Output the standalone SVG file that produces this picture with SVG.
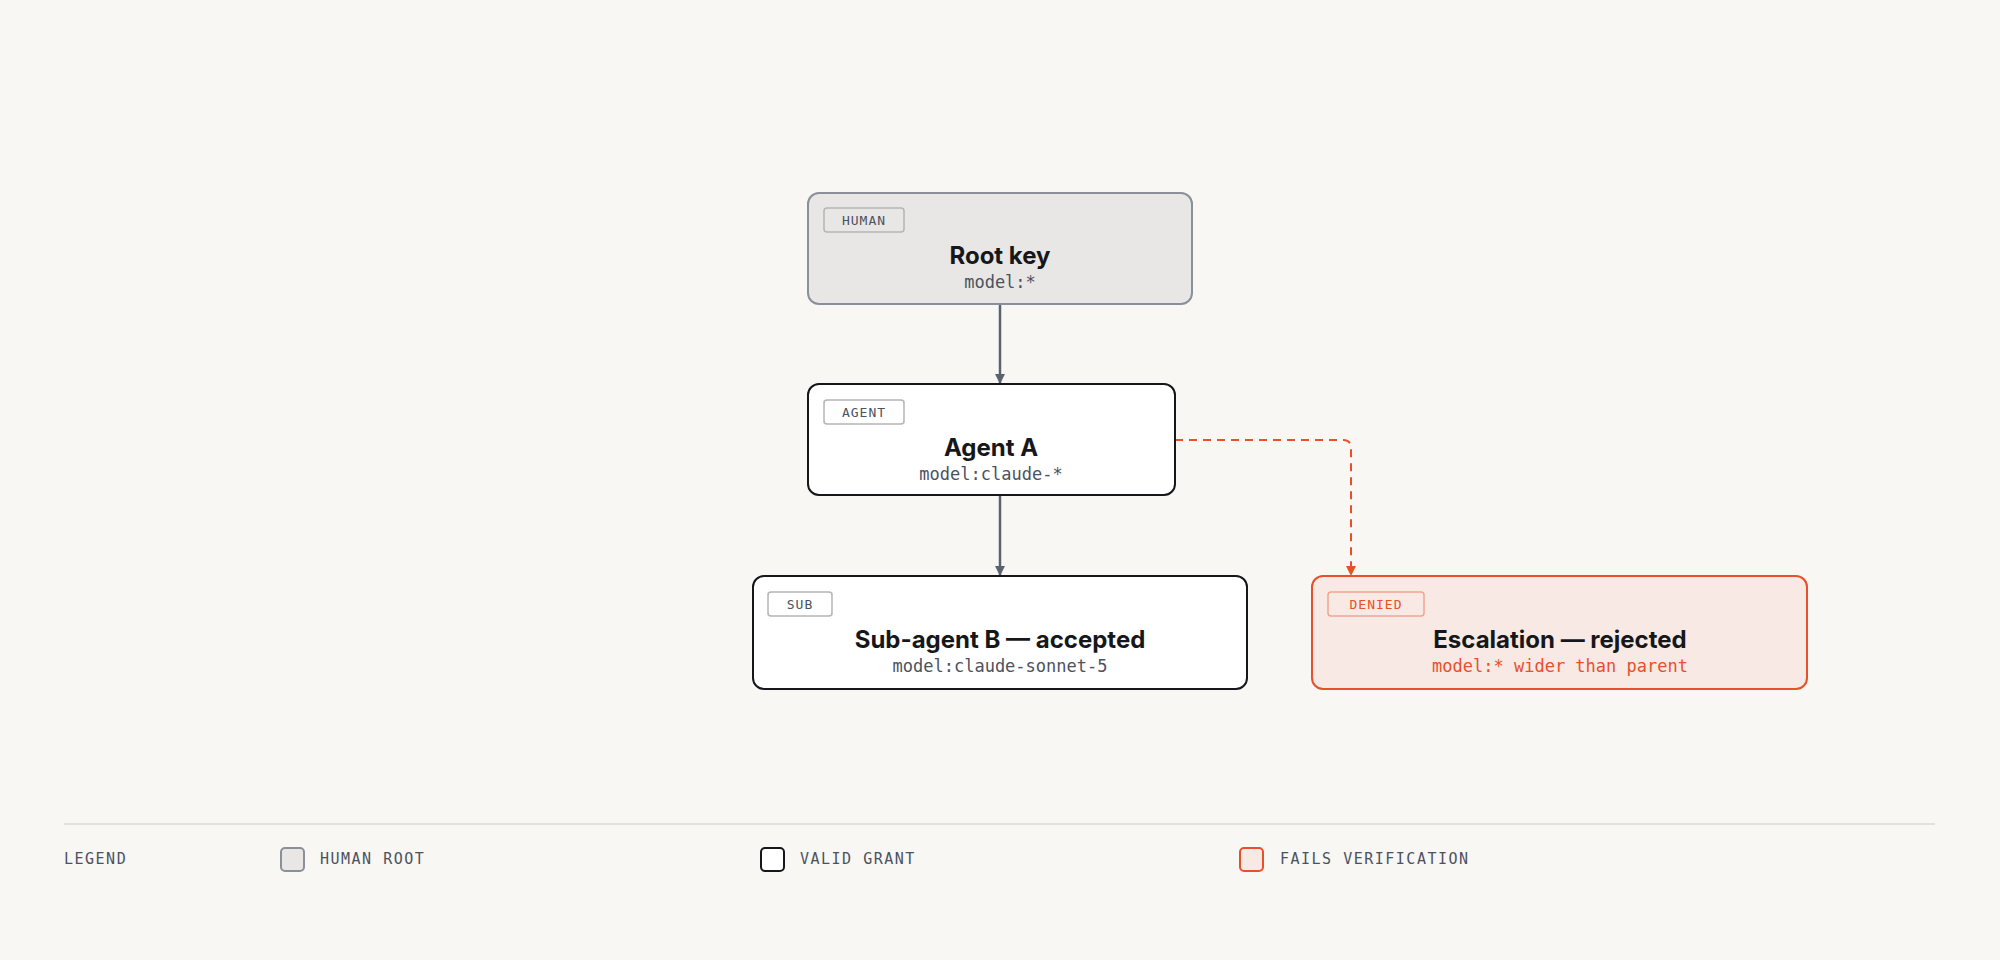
<svg xmlns="http://www.w3.org/2000/svg" width="2000" height="960" viewBox="0 0 2000 960">
<style>
.t{font-family:Inter,"Liberation Sans",sans-serif;font-weight:700;font-size:24px;fill:#16171a;text-anchor:middle}
.m{font-family:"DejaVu Sans Mono","Liberation Mono",monospace;font-size:17px;fill:#4b5260;text-anchor:middle}
.b{font-family:"DejaVu Sans Mono","Liberation Mono",monospace;font-size:13px;fill:#4b5260;text-anchor:middle;letter-spacing:1px}
.l{font-family:"DejaVu Sans Mono","Liberation Mono",monospace;font-size:15px;fill:#4b5260;letter-spacing:1.5px}
.badge{fill:none;stroke:#b5b5b5;stroke-width:1.5}
</style>
<defs>
<marker id="ag" viewBox="0 0 10 10" refX="10" refY="5" markerWidth="10" markerHeight="12" markerUnits="userSpaceOnUse" orient="auto"><path d="M0,0L10,5L0,10z" fill="#5b6370"/></marker>
<marker id="ar" viewBox="0 0 10 10" refX="10" refY="5" markerWidth="10" markerHeight="12" markerUnits="userSpaceOnUse" orient="auto"><path d="M0,0L10,5L0,10z" fill="#e8502a"/></marker>
</defs>
<rect width="2000" height="960" fill="#f8f7f4"/>
<g id="connectors">
<path d="M1000,304V384" stroke="#5b6370" stroke-width="2.5" fill="none" marker-end="url(#ag)"/>
<path d="M1000,495V576" stroke="#5b6370" stroke-width="2.5" fill="none" marker-end="url(#ag)"/>
<path d="M1175,440H1343Q1351,440 1351,448V576" stroke="#e8502a" stroke-width="2" stroke-dasharray="8,6" fill="none" marker-end="url(#ar)"/>
</g>
<g id="root">
<rect x="808" y="193" width="384" height="111" rx="11" fill="#e8e7e5" stroke="#8a8f9a" stroke-width="2"/>
<rect class="badge" x="824" y="208" width="80" height="24" rx="3"/>
<text class="b" x="864" y="225">HUMAN</text>
<text class="t" x="1000" y="264">Root key</text>
<text class="m" x="1000" y="288">model:*</text>
</g>
<g id="agentA">
<rect x="808" y="384" width="367" height="111" rx="11" fill="#fff" stroke="#16171a" stroke-width="2"/>
<rect class="badge" x="824" y="400" width="80" height="24" rx="3"/>
<text class="b" x="864" y="417">AGENT</text>
<text class="t" x="991" y="456">Agent A</text>
<text class="m" x="991" y="480">model:claude-*</text>
</g>
<g id="subB">
<rect x="753" y="576" width="494" height="113" rx="11" fill="#fff" stroke="#16171a" stroke-width="2"/>
<rect class="badge" x="768" y="592" width="64" height="24" rx="3"/>
<text class="b" x="800" y="609">SUB</text>
<text class="t" x="1000" y="648">Sub-agent B — accepted</text>
<text class="m" x="1000" y="672">model:claude-sonnet-5</text>
</g>
<g id="escalation">
<rect x="1312" y="576" width="495" height="113" rx="11" fill="#f8e9e4" stroke="#e8502a" stroke-width="2"/>
<rect x="1328" y="592" width="96" height="24" rx="3" fill="none" stroke="#f0a58f" stroke-width="1.5"/>
<text class="b" x="1376" y="609" style="fill:#e8502a">DENIED</text>
<text class="t" x="1560" y="648">Escalation — rejected</text>
<text class="m" x="1560" y="672" style="fill:#e8502a">model:* wider than parent</text>
</g>
<g id="legend">
<line x1="64" y1="824" x2="1935" y2="824" stroke="#dcdad6" stroke-width="1.5"/>
<text class="l" x="64" y="864">LEGEND</text>
<rect x="281" y="848" width="23" height="23" rx="4" fill="#e8e7e5" stroke="#8a8f9a" stroke-width="2"/>
<text class="l" x="320" y="864">HUMAN ROOT</text>
<rect x="761" y="848" width="23" height="23" rx="4" fill="#fff" stroke="#16171a" stroke-width="2"/>
<text class="l" x="800" y="864">VALID GRANT</text>
<rect x="1240" y="848" width="23" height="23" rx="4" fill="#f8e9e4" stroke="#e8502a" stroke-width="2"/>
<text class="l" x="1280" y="864">FAILS VERIFICATION</text>
</g>
</svg>
